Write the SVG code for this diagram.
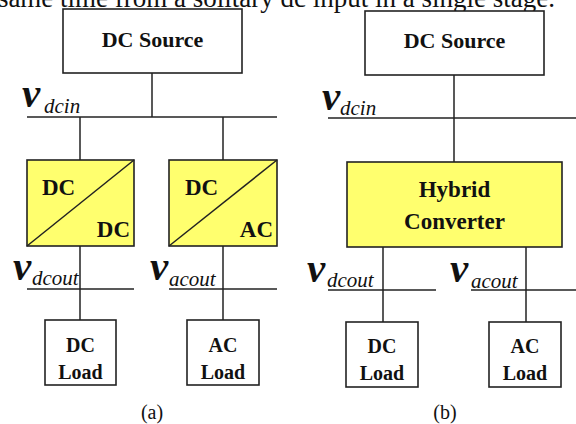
<svg xmlns="http://www.w3.org/2000/svg" width="576" height="424" viewBox="0 0 576 424" font-family="'Liberation Serif', serif">
<style>
.box{fill:#fff;stroke:#222;stroke-width:1.6}
.conv{fill:#FFFF6E;stroke:#222;stroke-width:1.6}
.ln{stroke:#222;stroke-width:1.5;fill:none}
text{font-family:'Liberation Serif',serif;fill:#111}
.lbl{font-size:22px;font-weight:bold;text-anchor:middle}
.cv{font-size:23px;font-weight:bold}
.ld{font-size:20px;font-weight:bold;text-anchor:middle}
.v{font-size:41px;font-weight:bold;font-style:italic}
.sub{font-size:21px;font-style:italic}
.cap{font-size:20px;text-anchor:middle}
</style>
<rect width="576" height="424" fill="#fff"/>
<text x="555" y="7" font-size="27" text-anchor="end">same time from a solitary dc input in a single stage.</text>

<g id="connectors">
  <line class="ln" x1="152" y1="73" x2="152" y2="117"/>
  <line class="ln" x1="27" y1="117" x2="277" y2="117"/>
  <line class="ln" x1="80" y1="117" x2="80" y2="160"/>
  <line class="ln" x1="223" y1="117" x2="223" y2="160"/>
  <line class="ln" x1="80" y1="246" x2="80" y2="320"/>
  <line class="ln" x1="223" y1="246" x2="223" y2="320"/>
  <line class="ln" x1="27" y1="289" x2="134" y2="289"/>
  <line class="ln" x1="169" y1="289" x2="277" y2="289"/>
  <line class="ln" x1="454" y1="75" x2="454" y2="162"/>
  <line class="ln" x1="328" y1="118" x2="576" y2="118"/>
  <line class="ln" x1="383" y1="247" x2="383" y2="322"/>
  <line class="ln" x1="526" y1="247" x2="526" y2="322"/>
  <line class="ln" x1="328" y1="290" x2="436" y2="290"/>
  <line class="ln" x1="471" y1="290" x2="576" y2="290"/>
</g>

<g id="labels">
  <text class="v" x="22" y="107">v</text>
  <text class="sub" x="44" y="113">dcin</text>
  <text class="v" x="13" y="280">v</text>
  <text class="sub" x="32" y="285">dcout</text>
  <text class="v" x="150" y="280">v</text>
  <text class="sub" x="169" y="286">acout</text>

  <text class="v" x="322" y="110">v</text>
  <text class="sub" x="340" y="115">dcin</text>
  <text class="v" x="307" y="282">v</text>
  <text class="sub" x="327" y="287">dcout</text>
  <text class="v" x="450" y="282">v</text>
  <text class="sub" x="471" y="288">acout</text>

  <text class="cap" x="152" y="419">(a)</text>
  <text class="cap" x="445" y="419">(b)</text>
</g>

<g id="dc-source-a">
  <rect class="box" x="63" y="9" width="179" height="64"/>
  <text class="lbl" x="152.5" y="47">DC Source</text>
</g>
<g id="dcdc-a">
  <rect class="conv" x="27" y="160" width="107" height="86"/>
  <line class="ln" x1="27" y1="246" x2="134" y2="160"/>
  <text class="cv" x="42" y="195">DC</text>
  <text class="cv" x="130" y="237" text-anchor="end">DC</text>
</g>
<g id="dcac-a">
  <rect class="conv" x="169" y="160" width="108" height="86"/>
  <line class="ln" x1="169" y1="246" x2="277" y2="160"/>
  <text class="cv" x="185" y="195">DC</text>
  <text class="cv" x="273" y="237" text-anchor="end">AC</text>
</g>
<g id="dc-load-a">
  <rect class="box" x="45" y="320" width="71" height="65"/>
  <text class="ld" x="80.5" y="352">DC</text>
  <text class="ld" x="80.5" y="379">Load</text>
</g>
<g id="ac-load-a">
  <rect class="box" x="187" y="320" width="72" height="65"/>
  <text class="ld" x="223" y="352">AC</text>
  <text class="ld" x="223" y="379">Load</text>
</g>

<g id="dc-source-b">
  <rect class="box" x="365" y="11" width="179" height="64"/>
  <text class="lbl" x="454.5" y="48">DC Source</text>
</g>
<g id="hybrid-b">
  <rect class="conv" x="347" y="162" width="215" height="85"/>
  <text class="cv" x="454.5" y="197" text-anchor="middle">Hybrid</text>
  <text class="cv" x="454.5" y="229" text-anchor="middle">Converter</text>
</g>
<g id="dc-load-b">
  <rect class="box" x="346" y="322" width="72" height="65"/>
  <text class="ld" x="382" y="353">DC</text>
  <text class="ld" x="382" y="380">Load</text>
</g>
<g id="ac-load-b">
  <rect class="box" x="489" y="322" width="72" height="65"/>
  <text class="ld" x="525" y="353">AC</text>
  <text class="ld" x="525" y="380">Load</text>
</g>
</svg>
